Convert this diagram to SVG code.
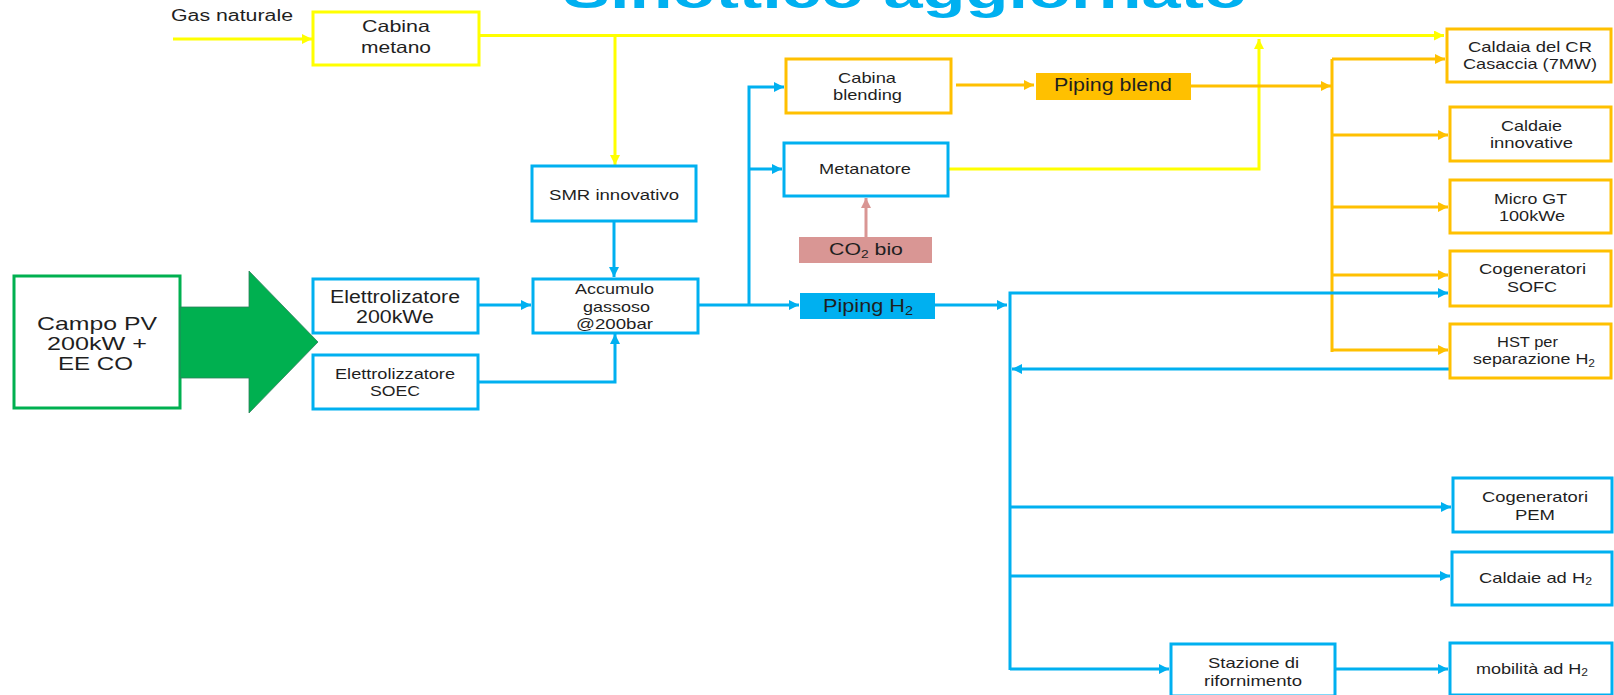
<svg xmlns="http://www.w3.org/2000/svg" width="1614" height="695" viewBox="0 0 1614 695">
<style>
.t{font-family:"Liberation Sans",Arial,sans-serif;fill:#1f1f1f;}
.s15{font-size:15px;}
.by{fill:#fff;stroke:#FFFF00;stroke-width:3;}
.bo{fill:#fff;stroke:#FFC000;stroke-width:3;}
.bb{fill:#fff;stroke:#00B0F0;stroke-width:3;}
.bg{fill:#fff;stroke:#00B050;stroke-width:3;}
.cy{fill:none;stroke:#FFFF00;stroke-width:3;}
.co{fill:none;stroke:#FFC000;stroke-width:3;}
.cb{fill:none;stroke:#00B0F0;stroke-width:3;}
.cp{fill:none;stroke:#D99694;stroke-width:3;}
</style>
<defs>
<marker id="ay" viewBox="0 0 10 10" refX="10" refY="5" markerWidth="11" markerHeight="10" orient="auto" markerUnits="userSpaceOnUse"><path d="M0,0 L10,5 L0,10 z" fill="#FFFF00"/></marker>
<marker id="ao" viewBox="0 0 10 10" refX="10" refY="5" markerWidth="11" markerHeight="10" orient="auto" markerUnits="userSpaceOnUse"><path d="M0,0 L10,5 L0,10 z" fill="#FFC000"/></marker>
<marker id="ab" viewBox="0 0 10 10" refX="10" refY="5" markerWidth="11" markerHeight="10" orient="auto" markerUnits="userSpaceOnUse"><path d="M0,0 L10,5 L0,10 z" fill="#00B0F0"/></marker>
<marker id="ap" viewBox="0 0 10 10" refX="10" refY="5" markerWidth="11" markerHeight="10" orient="auto" markerUnits="userSpaceOnUse"><path d="M0,0 L10,5 L0,10 z" fill="#D99694"/></marker>
</defs>

<text x="563" y="8" font-family="Liberation Sans, Arial, sans-serif" font-size="48" font-weight="bold" fill="#00B0F0" textLength="684" lengthAdjust="spacingAndGlyphs">Sinottico aggiornato</text>

<g id="connectors">
<path class="cy" d="M173,39 H312" marker-end="url(#ay)"/>
<path class="cy" d="M479,35.5 H1444" marker-end="url(#ay)"/>
<path class="cy" d="M615,36 V165" marker-end="url(#ay)"/>
<path class="cy" d="M948,169 H1259 V39" marker-end="url(#ay)"/>
<path class="co" d="M956,85 H1034" marker-end="url(#ao)"/>
<path class="co" d="M1191,86 H1331" marker-end="url(#ao)"/>
<path class="co" d="M1332,59 V352"/>
<path class="co" d="M1332,59 H1445" marker-end="url(#ao)"/>
<path class="co" d="M1332,135 H1448" marker-end="url(#ao)"/>
<path class="co" d="M1332,207 H1448" marker-end="url(#ao)"/>
<path class="co" d="M1332,275 H1448" marker-end="url(#ao)"/>
<path class="co" d="M1332,350 H1448" marker-end="url(#ao)"/>
<path class="cb" d="M614,221 V277" marker-end="url(#ab)"/>
<path class="cb" d="M478,305 H531" marker-end="url(#ab)"/>
<path class="cb" d="M478,382 H615 V334" marker-end="url(#ab)"/>
<path class="cb" d="M698,305 H799" marker-end="url(#ab)"/>
<path class="cb" d="M749,305 V87 H784" marker-end="url(#ab)"/>
<path class="cb" d="M749,169 H782" marker-end="url(#ab)"/>
<path class="cb" d="M935,305 H1007" marker-end="url(#ab)"/>
<path class="cb" d="M1010,670 V293 H1448" marker-end="url(#ab)"/>
<path class="cb" d="M1450,369 H1012" marker-end="url(#ab)"/>
<path class="cb" d="M1010,507 H1451" marker-end="url(#ab)"/>
<path class="cb" d="M1010,576 H1450" marker-end="url(#ab)"/>
<path class="cb" d="M1010,669 H1169" marker-end="url(#ab)"/>
<path class="cb" d="M1335,669 H1448" marker-end="url(#ab)"/>
<path class="cp" d="M866,237 V198" marker-end="url(#ap)"/>
</g>

<g id="gas-naturale">
<text class="t" x="171" y="21" font-size="16" textLength="122" lengthAdjust="spacingAndGlyphs">Gas naturale</text>
</g>

<g id="cabina-metano">
<rect class="by" x="313" y="12" width="166" height="53"/>
<text class="t" x="362" y="32" font-size="16.5" textLength="68" lengthAdjust="spacingAndGlyphs">Cabina</text>
<text class="t" x="361" y="53" font-size="16.5" textLength="70" lengthAdjust="spacingAndGlyphs">metano</text>
</g>

<g id="smr">
<rect class="bb" x="532" y="166" width="164" height="55"/>
<text class="t" x="549" y="200" font-size="14" textLength="130" lengthAdjust="spacingAndGlyphs">SMR innovativo</text>
</g>

<g id="accumulo">
<rect class="bb" x="533" y="279" width="165" height="54"/>
<text class="t s15" x="575" y="294" textLength="79" lengthAdjust="spacingAndGlyphs">Accumulo</text>
<text class="t s15" x="583" y="312" textLength="67" lengthAdjust="spacingAndGlyphs">gassoso</text>
<text class="t s15" x="576" y="329" textLength="77" lengthAdjust="spacingAndGlyphs">@200bar</text>
</g>

<g id="elettrolizzatore-200">
<rect class="bb" x="313" y="279" width="165" height="54"/>
<text class="t" x="330" y="303" font-size="17.5" textLength="130" lengthAdjust="spacingAndGlyphs">Elettrolizatore</text>
<text class="t" x="356" y="323" font-size="17.5" textLength="78" lengthAdjust="spacingAndGlyphs">200kWe</text>
</g>

<g id="elettrolizzatore-soec">
<rect class="bb" x="313" y="355" width="165" height="54"/>
<text class="t s15" x="335" y="379" textLength="120" lengthAdjust="spacingAndGlyphs">Elettrolizzatore</text>
<text class="t s15" x="370" y="396" textLength="50" lengthAdjust="spacingAndGlyphs">SOEC</text>
</g>

<g id="campo-pv">
<rect class="bg" x="14" y="276" width="166" height="132"/>
<text class="t" x="37" y="330" font-size="19" textLength="120" lengthAdjust="spacingAndGlyphs">Campo PV</text>
<text class="t" x="47" y="350" font-size="19" textLength="100" lengthAdjust="spacingAndGlyphs">200kW +</text>
<text class="t" x="58" y="370" font-size="19" textLength="75" lengthAdjust="spacingAndGlyphs">EE CO</text>
</g>

<g id="freccia-verde">
<polygon points="180,307 249,307 249,271 318,342 249,413 249,378 180,378" fill="#00B050" stroke="#2F7F5A" stroke-width="0.8"/>
</g>

<g id="cabina-blending">
<rect class="bo" x="786" y="59" width="165" height="54"/>
<text class="t s15" x="838" y="83" textLength="58" lengthAdjust="spacingAndGlyphs">Cabina</text>
<text class="t s15" x="833" y="100" textLength="69" lengthAdjust="spacingAndGlyphs">blending</text>
</g>

<g id="metanatore">
<rect class="bb" x="784" y="143" width="164" height="53"/>
<text class="t s15" x="819" y="174" textLength="92" lengthAdjust="spacingAndGlyphs">Metanatore</text>
</g>

<g id="co2-bio">
<rect x="799" y="237" width="133" height="26" fill="#D99694"/>
<text class="t" x="829" y="255" font-size="17" textLength="74" lengthAdjust="spacingAndGlyphs">CO<tspan font-size="11" dy="3">2</tspan><tspan dy="-3"> bio</tspan></text>
</g>

<g id="piping-h2">
<rect x="800" y="293" width="135" height="26" fill="#00B0F0"/>
<text class="t" x="823" y="312" font-size="18" textLength="90" lengthAdjust="spacingAndGlyphs">Piping H<tspan font-size="12" dy="3">2</tspan></text>
</g>

<g id="piping-blend">
<rect x="1036" y="73" width="155" height="27" fill="#FFC000"/>
<text class="t" x="1054" y="91" font-size="18" textLength="118" lengthAdjust="spacingAndGlyphs">Piping blend</text>
</g>

<g id="caldaia-cr">
<rect class="bo" x="1447" y="29" width="164" height="53"/>
<text class="t s15" x="1468" y="52" textLength="124" lengthAdjust="spacingAndGlyphs">Caldaia del CR</text>
<text class="t s15" x="1463" y="69" textLength="134" lengthAdjust="spacingAndGlyphs">Casaccia (7MW)</text>
</g>

<g id="caldaie-innovative">
<rect class="bo" x="1450" y="107" width="161" height="54"/>
<text class="t s15" x="1501" y="131" textLength="61" lengthAdjust="spacingAndGlyphs">Caldaie</text>
<text class="t s15" x="1490" y="148" textLength="83" lengthAdjust="spacingAndGlyphs">innovative</text>
</g>

<g id="micro-gt">
<rect class="bo" x="1450" y="180" width="161" height="53"/>
<text class="t s15" x="1494" y="204" textLength="73" lengthAdjust="spacingAndGlyphs">Micro GT</text>
<text class="t s15" x="1499" y="221" textLength="66" lengthAdjust="spacingAndGlyphs">100kWe</text>
</g>

<g id="cogeneratori-sofc">
<rect class="bo" x="1450" y="251" width="161" height="55"/>
<text class="t s15" x="1479" y="274" textLength="107" lengthAdjust="spacingAndGlyphs">Cogeneratori</text>
<text class="t s15" x="1507" y="292" textLength="50" lengthAdjust="spacingAndGlyphs">SOFC</text>
</g>

<g id="hst">
<rect class="bo" x="1450" y="324" width="161" height="54"/>
<text class="t s15" x="1497" y="347" textLength="61" lengthAdjust="spacingAndGlyphs">HST per</text>
<text class="t s15" x="1473" y="364" textLength="122" lengthAdjust="spacingAndGlyphs">separazione H<tspan font-size="10" dy="3">2</tspan></text>
</g>

<g id="cogeneratori-pem">
<rect class="bb" x="1453" y="478" width="159" height="54"/>
<text class="t s15" x="1482" y="502" textLength="106" lengthAdjust="spacingAndGlyphs">Cogeneratori</text>
<text class="t s15" x="1515" y="520" textLength="40" lengthAdjust="spacingAndGlyphs">PEM</text>
</g>

<g id="caldaie-h2">
<rect class="bb" x="1452" y="552" width="160" height="53"/>
<text class="t s15" x="1479" y="583" textLength="113" lengthAdjust="spacingAndGlyphs">Caldaie ad H<tspan font-size="10" dy="2">2</tspan></text>
</g>

<g id="stazione">
<rect class="bb" x="1171" y="644" width="164" height="52"/>
<text class="t s15" x="1208" y="668" textLength="91" lengthAdjust="spacingAndGlyphs">Stazione di</text>
<text class="t s15" x="1204" y="686" textLength="98" lengthAdjust="spacingAndGlyphs">rifornimento</text>
</g>

<g id="mobilita">
<rect class="bb" x="1450" y="643" width="162" height="52"/>
<text class="t s15" x="1476" y="674" textLength="112" lengthAdjust="spacingAndGlyphs">mobilità ad H<tspan font-size="10" dy="2">2</tspan></text>
</g>
</svg>
